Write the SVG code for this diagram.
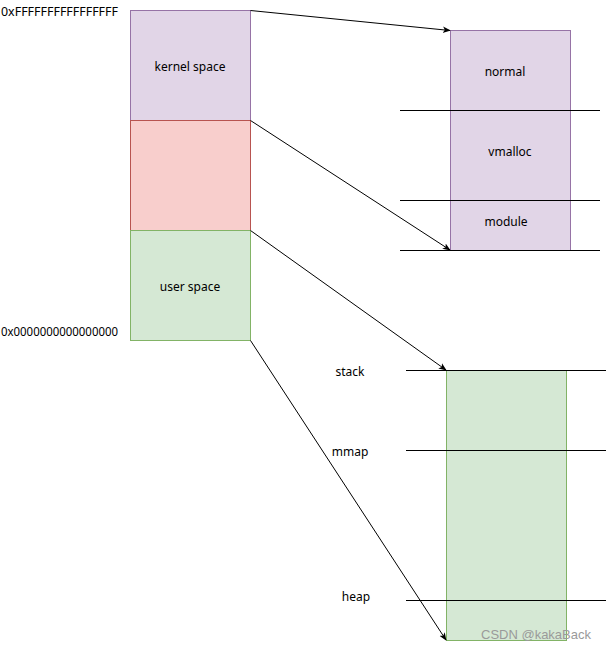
<svg xmlns="http://www.w3.org/2000/svg" width="608" height="649" viewBox="0 0 608 649">
<style>
text{font-family:"Noto Sans","DejaVu Sans",sans-serif;font-size:12px;fill:#000;}
.c{text-anchor:middle;}
.p{fill:#e1d5e7;stroke:#9673a6;stroke-width:1;}
.r{fill:#f8cecc;stroke:#b85450;stroke-width:1;}
.g{fill:#d5e8d4;stroke:#82b366;stroke-width:1;}
.ln{stroke:#000;stroke-width:1;fill:none;}
.wm{font-family:"Liberation Sans",Arial,sans-serif;font-size:13px;fill:#9a9a9a;}
</style>
<defs>
<marker id="ah" viewBox="0 0 10 10" refX="9" refY="5" markerWidth="8" markerHeight="8" orient="auto" markerUnits="userSpaceOnUse">
<path d="M0,1 L10,5 L0,9 L2.5,5 Z" fill="#000"/>
</marker>
</defs>
<g id="addr-high"><text x="1" y="16" textLength="117" lengthAdjust="spacingAndGlyphs">0xFFFFFFFFFFFFFFFF</text></g>
<g id="addr-low"><text x="1" y="336" textLength="117" lengthAdjust="spacingAndGlyphs">0x0000000000000000</text></g>
<g id="kernel"><rect class="p" x="130.5" y="10.5" width="120" height="110"/><text class="c" x="190" y="71">kernel space</text></g>
<g id="hole"><rect class="r" x="130.5" y="120.5" width="120" height="110"/></g>
<g id="user"><rect class="g" x="130.5" y="230.5" width="120" height="110"/><text class="c" x="190" y="291">user space</text></g>
<g id="kernel-detail">
<rect class="p" x="450.5" y="30.5" width="120" height="220"/>
<text class="c" x="505" y="76">normal</text>
<text class="c" x="510" y="156">vmalloc</text>
<text class="c" x="506" y="226">module</text>
</g>
<g id="user-detail">
<rect class="g" x="446.5" y="370.5" width="120" height="270"/>
<text class="c" x="350" y="376">stack</text>
<text class="c" x="350" y="456">mmap</text>
<text class="c" x="356" y="601">heap</text>
</g>
<g id="dividers">
<line class="ln" x1="400" y1="110.5" x2="600" y2="110.5"/>
<line class="ln" x1="400" y1="200.5" x2="600" y2="200.5"/>
<line class="ln" x1="400" y1="250.5" x2="600" y2="250.5"/>
<line class="ln" x1="406" y1="370.5" x2="606" y2="370.5"/>
<line class="ln" x1="406" y1="450.5" x2="606" y2="450.5"/>
<line class="ln" x1="406" y1="600.5" x2="606" y2="600.5"/>
</g>
<g id="connectors">
<line class="ln" x1="250.5" y1="10.5" x2="450" y2="30.5" marker-end="url(#ah)"/>
<line class="ln" x1="250.5" y1="120.5" x2="450" y2="250" marker-end="url(#ah)"/>
<line class="ln" x1="250.5" y1="230.5" x2="446" y2="370" marker-end="url(#ah)"/>
<line class="ln" x1="250.5" y1="340.5" x2="446" y2="640" marker-end="url(#ah)"/>
</g>
<text class="wm" x="481" y="639">CSDN @kakaBack</text>
</svg>
